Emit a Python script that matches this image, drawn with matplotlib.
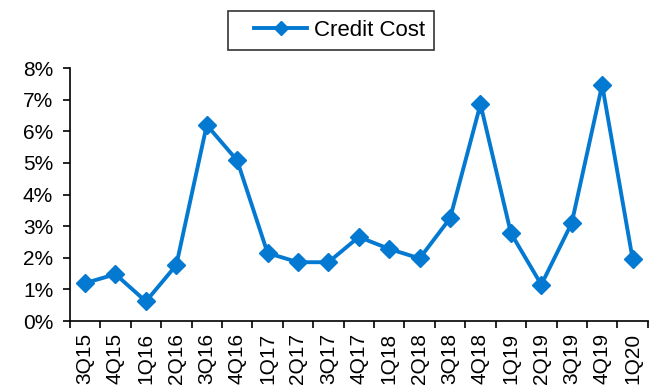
import matplotlib.pyplot as plt
import numpy as np
from matplotlib.ticker import FuncFormatter
from matplotlib.legend_handler import HandlerLine2D

quarters = ["3Q15", "4Q15", "1Q16", "2Q16", "3Q16", "4Q16", "1Q17", "2Q17", "3Q17", "4Q17",
            "1Q18", "2Q18", "3Q18", "4Q18", "1Q19", "2Q19", "3Q19", "4Q19", "1Q20"]
credit_cost = [1.2, 1.48, 0.62, 1.77, 6.2, 5.08, 2.15, 1.86, 1.86, 2.66,
               2.28, 1.98, 3.25, 6.86, 2.78, 1.15, 3.1, 7.47, 1.97]

plt.rcParams['font.family'] = ['Liberation Sans', 'DejaVu Sans']

fig = plt.figure(figsize=(6.53, 3.87), dpi=100)
ax = fig.add_axes([0.107, 0.1705, 0.885, 0.6535])

x = np.arange(len(quarters))
line, = ax.plot(x, credit_cost, color="#0479d2", lw=2.8, marker="D", markersize=9.5,
                label="Credit Cost")

ax.set_xlim(-0.5, len(quarters) - 0.5)
ax.set_ylim(0, 8)
ax.set_yticks(range(0, 9))
ax.yaxis.set_major_formatter(FuncFormatter(lambda v, p: f"{int(v)}%"))
ax.set_xticks(x)
ax.set_xticklabels(quarters, rotation=90)
ax.set_xticks(np.arange(-0.5, len(quarters)), minor=True)
ax.tick_params(axis="x", which="major", length=0, labelsize=15, pad=8.5)
ax.tick_params(axis="x", which="minor", length=5, direction="out", width=1.2)
ax.tick_params(axis="y", length=5, width=1.2, labelsize=15, pad=7)

for s in ["top", "right"]:
    ax.spines[s].set_visible(False)
for s in ["left", "bottom"]:
    ax.spines[s].set_linewidth(1.2)

leg = ax.legend(handles=[line], loc="center", bbox_to_anchor=(0.4516, 1.148),
                frameon=True, fancybox=False, edgecolor="black", fontsize=16,
                handlelength=3.17, borderpad=0.4, handletextpad=0.3,
                handler_map={line: HandlerLine2D(xpad=0.79)})
leg.get_frame().set_linewidth(1.2)
leg.legend_handles[0].set_markersize(7)

fig.savefig("out.png", dpi=100)
